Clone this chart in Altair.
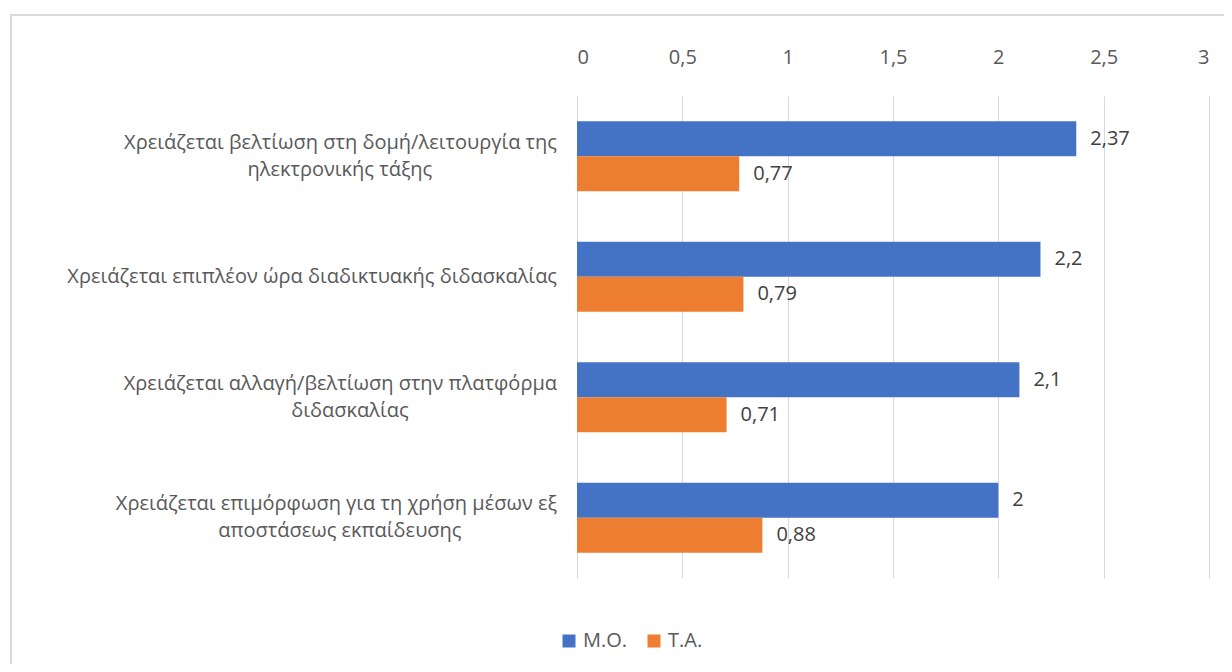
import altair as alt
import pandas as pd

cat_line1 = [
    "Χρειάζεται βελτίωση στη δομή/λειτουργία της",
    "Χρειάζεται επιπλέον ώρα διαδικτυακής διδασκαλίας",
    "Χρειάζεται αλλαγή/βελτίωση στην πλατφόρμα",
    "Χρειάζεται επιμόρφωση για τη χρήση μέσων εξ",
]
cat_line2 = [
    "ηλεκτρονικής τάξης",
    "",
    "διδασκαλίας",
    "αποστάσεως εκπαίδευσης",
]
series = ["Μ.Ο.", "Τ.Α."]
mo_values = [2.37, 2.2, 2.1, 2]
ta_values = [0.77, 0.79, 0.71, 0.88]
x_ticks = [0, 0.5, 1, 1.5, 2, 2.5, 3]
colors = ["#4472C4", "#ED7D31"]

categories = [a + " " + b if b else a for a, b in zip(cat_line1, cat_line2)]

rows = []
for c, a, b in zip(categories, mo_values, ta_values):
    rows.append({"cat": c, "series": series[0], "value": a})
    rows.append({"cat": c, "series": series[1], "value": b})
df = pd.DataFrame(rows)

lab_df = pd.DataFrame({"cat": categories, "l1": cat_line1, "l2": cat_line2})

FONT = "Open Sans"
GRAY = "#595959"
FS = 20
CHAR_W = 0.505 * FS  # approximate average glyph width for centring second lines

y_enc = alt.Y("cat:N", sort=categories,
              scale=alt.Scale(paddingInner=0.42, paddingOuter=0.21),
              axis=alt.Axis(title=None, domain=False, ticks=False, labels=False))

base = alt.Chart(df).encode(
    y=y_enc,
    yOffset=alt.YOffset("series:N", sort=series),
)

bars = base.mark_bar().encode(
    x=alt.X("value:Q", scale=alt.Scale(domain=[0, 3], nice=False),
            axis=alt.Axis(orient="top", values=x_ticks, title=None, domain=False,
                          ticks=False, labelPadding=29, labelFontSize=FS,
                          labelColor=GRAY, labelFont=FONT, gridColor="#d9d9d9",
                          labelExpr="replace(toString(datum.value), '.', ',')")),
    color=alt.Color("series:N", sort=series,
                    scale=alt.Scale(domain=series, range=colors),
                    legend=alt.Legend(title=None, orient="none", direction="horizontal",
                                      legendX=-18, legendY=535, symbolType="square",
                                      symbolSize=169, symbolStrokeWidth=0,
                                      labelFontSize=FS, labelColor=GRAY, labelFont=FONT,
                                      columnPadding=16, labelOffset=4)),
)

labels = base.mark_text(align="left", dx=14, fontSize=FS, color="#404040", font=FONT).encode(
    x="value:Q",
    text="lab:N",
).transform_calculate(lab="replace(toString(datum.value), '.', ',')")

lab_base = alt.Chart(lab_df).encode(y=alt.Y("cat:N", sort=categories))

single = lab_base.transform_filter("datum.l2 == ''").mark_text(
    align="right", baseline="middle", fontSize=FS, color=GRAY, font=FONT
).encode(x=alt.value(-20), text="l1:N")

first = lab_base.transform_filter("datum.l2 != ''").mark_text(
    align="right", baseline="middle", fontSize=FS, color=GRAY, font=FONT, dy=-13.5
).encode(x=alt.value(-20), text="l1:N")

second = lab_base.transform_filter("datum.l2 != ''").transform_calculate(
    px=f"-20 - length(datum.l1) * {CHAR_W} / 2"
).mark_text(
    align="center", baseline="middle", fontSize=FS, color=GRAY, font=FONT, dy=13.5
).encode(x=alt.X("px:Q", scale=None), text="l2:N")

border = alt.Chart(pd.DataFrame({"a": [0]})).mark_rect(
    fill=None, stroke="#d9d9d9", strokeWidth=2
).encode(
    x=alt.value(-566), x2=alt.value(700), y=alt.value(-81), y2=alt.value(700)
)

chart = alt.layer(border, bars, labels, single, first, second).properties(
    width=632, height=482,
    autosize=alt.AutoSizeParams(type="none"),
    padding={"left": 569, "top": 88, "right": 15, "bottom": 86},
).configure_view(stroke=None)

chart.save("out.html", embed_options={"renderer": "svg", "actions": False})
